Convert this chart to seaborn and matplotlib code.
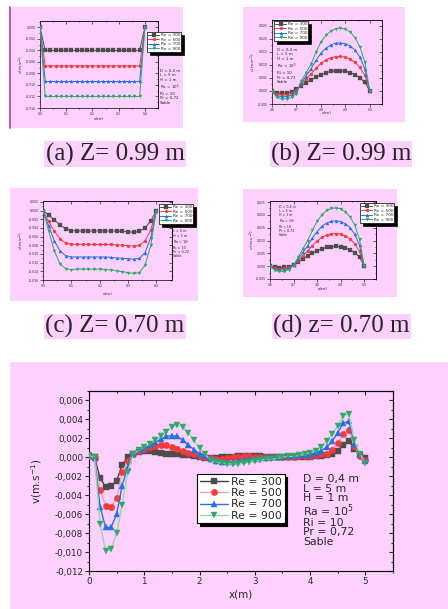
import numpy as np
import pandas as pd
import matplotlib
matplotlib.use("Agg")
import matplotlib.pyplot as plt
import seaborn as sns
from matplotlib.patches import Rectangle
from matplotlib.lines import Line2D
from matplotlib.ticker import MultipleLocator, FuncFormatter, FixedLocator

sns.set_style("ticks")
plt.rcParams['font.family'] = ['DejaVu Sans']
plt.rcParams['axes.unicode_minus'] = False

# ---------------- data ----------------
RE = ["Re = 300", "Re = 500", "Re = 700", "Re = 900"]

XA = [0.00, 0.02, 0.04, 0.06, 0.08, 0.10, 0.12, 0.14, 0.16, 0.18, 0.20,
      0.22, 0.24, 0.26, 0.28, 0.30, 0.32, 0.34, 0.36, 0.38, 0.40]
A300 = [0.0, -0.0040, -0.0040, -0.0040, -0.0040, -0.0040, -0.0040, -0.0040, -0.0040, -0.0040, -0.0040,
        -0.0040, -0.0040, -0.0040, -0.0040, -0.0040, -0.0040, -0.0040, -0.0040, -0.0040, 0.0]
A500 = [0.0, -0.0067, -0.0067, -0.0067, -0.0067, -0.0067, -0.0067, -0.0067, -0.0067, -0.0067, -0.0067,
        -0.0067, -0.0067, -0.0067, -0.0067, -0.0067, -0.0067, -0.0067, -0.0067, -0.0067, 0.0]
A700 = [0.0, -0.0094, -0.0094, -0.0094, -0.0094, -0.0094, -0.0094, -0.0094, -0.0094, -0.0094, -0.0094,
        -0.0094, -0.0094, -0.0094, -0.0094, -0.0094, -0.0094, -0.0094, -0.0094, -0.0094, 0.0]
A900 = [0.0, -0.0120, -0.0120, -0.0120, -0.0120, -0.0120, -0.0120, -0.0120, -0.0120, -0.0120, -0.0120,
        -0.0120, -0.0120, -0.0120, -0.0120, -0.0120, -0.0120, -0.0120, -0.0120, -0.0120, 0.0]

XB = [4.60, 4.62, 4.64, 4.66, 4.68, 4.70, 4.72, 4.74, 4.76, 4.78, 4.80,
      4.82, 4.84, 4.86, 4.88, 4.90, 4.92, 4.94, 4.96, 4.98, 5.00]
B300 = [0.0, -0.0007, -0.0008, -0.0007, -0.0003, 0.0008, 0.0020, 0.0032, 0.0043, 0.0054, 0.0063,
        0.0070, 0.0075, 0.0078, 0.0078, 0.0076, 0.0071, 0.0063, 0.0051, 0.0033, 0.0]
B500 = [0.0, -0.0012, -0.0015, -0.0014, -0.0009, 0.0002, 0.0025, 0.0045, 0.0066, 0.0088, 0.0106,
        0.0119, 0.0128, 0.0132, 0.0133, 0.0130, 0.0123, 0.0110, 0.0091, 0.0060, 0.0]
B700 = [0.0, -0.0018, -0.0022, -0.0022, -0.0016, -0.0003, 0.0030, 0.0058, 0.0086, 0.0118, 0.0145,
        0.0164, 0.0177, 0.0184, 0.0185, 0.0182, 0.0173, 0.0157, 0.0130, 0.0085, 0.0]
B900 = [0.0, -0.0025, -0.0030, -0.0030, -0.0025, -0.0010, 0.0039, 0.0071, 0.0104, 0.0150, 0.0188,
        0.0214, 0.0230, 0.0239, 0.0242, 0.0238, 0.0227, 0.0205, 0.0169, 0.0110, 0.0]

XC = XA
C300 = [0.0, -0.0010, -0.0022, -0.0033, -0.0042, -0.0046, -0.0047, -0.0047, -0.0047, -0.0047, -0.0047,
        -0.0047, -0.0047, -0.0047, -0.0048, -0.0049, -0.0050, -0.0048, -0.0040, -0.0024, 0.0]
C500 = [0.0, -0.0025, -0.0048, -0.0065, -0.0075, -0.0078, -0.0078, -0.0078, -0.0078, -0.0078, -0.0078,
        -0.0078, -0.0078, -0.0079, -0.0080, -0.0081, -0.0082, -0.0080, -0.0070, -0.0045, 0.0]
C700 = [0.0, -0.0035, -0.0070, -0.0093, -0.0104, -0.0107, -0.0107, -0.0107, -0.0107, -0.0107, -0.0107,
        -0.0107, -0.0108, -0.0109, -0.0110, -0.0111, -0.0112, -0.0110, -0.0097, -0.0062, 0.0]
C900 = [0.0, -0.0047, -0.0093, -0.0123, -0.0134, -0.0136, -0.0135, -0.0135, -0.0135, -0.0135, -0.0135,
        -0.0136, -0.0137, -0.0139, -0.0141, -0.0143, -0.0145, -0.0143, -0.0126, -0.0080, 0.0]

XD = XB
D300 = [0.0, -0.0004, -0.0006, -0.0005, -0.0002, 0.0006, 0.0016, 0.0028, 0.0040, 0.0050, 0.0060,
        0.0067, 0.0073, 0.0076, 0.0077, 0.0075, 0.0071, 0.0064, 0.0053, 0.0035, 0.0]
D500 = [0.0, -0.0007, -0.0010, -0.0009, -0.0005, 0.0004, 0.0022, 0.0040, 0.0060, 0.0080, 0.0098,
        0.0112, 0.0121, 0.0126, 0.0127, 0.0125, 0.0118, 0.0106, 0.0088, 0.0058, 0.0]
D700 = [0.0, -0.0011, -0.0015, -0.0014, -0.0009, 0.0004, 0.0028, 0.0054, 0.0080, 0.0110, 0.0135,
        0.0155, 0.0168, 0.0175, 0.0177, 0.0174, 0.0166, 0.0150, 0.0124, 0.0082, 0.0]
D900 = [0.0, -0.0015, -0.0020, -0.0020, -0.0013, 0.0003, 0.0035, 0.0068, 0.0100, 0.0140, 0.0175,
        0.0200, 0.0217, 0.0225, 0.0227, 0.0223, 0.0212, 0.0192, 0.0160, 0.0105, 0.0]

XE = [0.0, 0.1, 0.2, 0.3, 0.4, 0.5, 0.6, 0.7, 0.8, 0.9, 1.0, 1.1, 1.2, 1.3, 1.4, 1.5, 1.6, 1.7,
      1.8, 1.9, 2.0, 2.1, 2.2, 2.3, 2.4, 2.5, 2.6, 2.7, 2.8, 2.9, 3.0, 3.1, 3.2, 3.3, 3.4, 3.5,
      3.6, 3.7, 3.8, 3.9, 4.0, 4.1, 4.2, 4.3, 4.4, 4.5, 4.6, 4.7, 4.8, 4.9, 5.0]
E300 = [0.0001, 0.0000, -0.0022, -0.0031, -0.0030, -0.0025, -0.0008, 0.0000, 0.0004, 0.0006,
        0.0007, 0.0007, 0.0006, 0.0005, 0.0004, 0.0003, 0.0003, 0.0002, 0.0002, 0.0001,
        0.0000, -0.0001, -0.0001, -0.0001, 0.0000, 0.0000, 0.0000, 0.0001, 0.0001, 0.0001,
        0.0001, 0.0001, 0.0000, 0.0000, 0.0000, 0.0000, 0.0000, 0.0000, 0.0000, 0.0000,
        0.0000, 0.0001, 0.0001, 0.0002, 0.0003, 0.0007, 0.0013, 0.0017, 0.0009, 0.0002, -0.0001]
E500 = [0.0001, -0.0001, -0.0035, -0.0051, -0.0052, -0.0043, -0.0016, -0.0004, 0.0003, 0.0007,
        0.0009, 0.0011, 0.0012, 0.0013, 0.0013, 0.0011, 0.0009, 0.0007, 0.0005, 0.0003,
        0.0001, 0.0000, -0.0001, -0.0002, -0.0002, -0.0001, 0.0000, 0.0000, 0.0001, 0.0001,
        0.0000, 0.0000, 0.0000, 0.0000, 0.0000, 0.0000, 0.0000, 0.0000, 0.0001, 0.0001,
        0.0001, 0.0002, 0.0003, 0.0004, 0.0008, 0.0015, 0.0025, 0.0029, 0.0012, 0.0001, -0.0003]
E700 = [0.0002, -0.0001, -0.0052, -0.0074, -0.0074, -0.0060, -0.0030, -0.0010, 0.0004, 0.0008,
        0.0010, 0.0013, 0.0016, 0.0019, 0.0022, 0.0023, 0.0022, 0.0018, 0.0013, 0.0008,
        0.0004, 0.0001, -0.0002, -0.0004, -0.0005, -0.0005, -0.0005, -0.0004, -0.0003, -0.0002,
        -0.0002, -0.0001, -0.0001, 0.0000, 0.0000, 0.0000, 0.0001, 0.0001, 0.0002, 0.0002,
        0.0003, 0.0005, 0.0007, 0.0011, 0.0017, 0.0026, 0.0036, 0.0038, 0.0014, 0.0003, -0.0004]
E900 = [0.0002, 0.0000, -0.0070, -0.0099, -0.0097, -0.0080, -0.0050, -0.0015, 0.0003, 0.0008,
        0.0011, 0.0014, 0.0018, 0.0022, 0.0027, 0.0032, 0.0034, 0.0032, 0.0026, 0.0018,
        0.0010, 0.0003, -0.0003, -0.0005, -0.0006, -0.0007, -0.0007, -0.0007, -0.0006, -0.0005,
        -0.0004, -0.0003, -0.0002, -0.0002, -0.0001, 0.0000, 0.0001, 0.0001, 0.0002, 0.0003,
        0.0005, 0.0007, 0.0011, 0.0017, 0.0025, 0.0033, 0.0044, 0.0046, 0.0018, 0.0004, -0.0006]

PARAMS = ["D = 0,4 m", "L = 5 m", "H = 1 m", "Ra = 10$^5$", "Ri = 10", "Pr = 0,72", "Sable"]
CAPTIONS = ["(a) Z= 0.99 m", "(b) Z= 0.99 m", "(c) Z= 0.70 m", "(d) z= 0.70 m"]

# ---------------- styling ----------------
W, H = 448, 609
PINK = "#fdd0fd"
MARKERS = ["s", "o", "^", "v"]
MK_COL = ["#4d4d4d", "#f23b3b", "#1f6fe6", "#2fa86a"]
LN_COL_E = ["#3c3c3c", "#f5a3a3", "#2a6fe0", "#94d8ad"]

fig = plt.figure(figsize=(W / 100, H / 100), dpi=100)
fig.patch.set_facecolor("white")


def frect(x0, y0, x1, y1):
    return [x0 / W, 1 - y1 / H, (x1 - x0) / W, (y1 - y0) / H]


def bg(x0, y0, x1, y1):
    fig.add_artist(Rectangle((x0 / W, 1 - y1 / H), (x1 - x0) / W, (y1 - y0) / H,
                             transform=fig.transFigure, facecolor=PINK,
                             edgecolor="none", zorder=-5))


def dec(comma, nd):
    def f(v, p):
        s = f"{v:.{nd}f}"
        return s.replace(".", ",") if comma else s
    return FuncFormatter(f)


def make_panel(box, xs, ys_list, xlim, ylim, xt, yt, xnd, ynd, comma, ylabel,
               ylab_x, xlab_y, leg_xy, ann_x, ann_y, ann_ls, lw, ms, tfs, lfs, legfs, annfs,
               line_cols, xminor, yminor, sw, mew):
    ax = fig.add_axes(frect(*box))
    ax.set_facecolor(PINK)
    for i, ys in enumerate(ys_list):
        sns.lineplot(x=xs, y=ys, ax=ax, color=line_cols[i], linewidth=lw,
                     marker=MARKERS[i], markersize=ms, markerfacecolor=MK_COL[i],
                     markeredgecolor=MK_COL[i], markeredgewidth=mew, label=RE[i],
                     legend=False, sort=False, zorder=3 + i)
    ax.set_xlim(*xlim)
    ax.set_ylim(*ylim)
    ax.xaxis.set_major_locator(FixedLocator(xt))
    ax.yaxis.set_major_locator(FixedLocator(yt))
    ax.xaxis.set_minor_locator(MultipleLocator(xminor))
    ax.yaxis.set_minor_locator(MultipleLocator(yminor))
    ax.xaxis.set_major_formatter(dec(comma, xnd))
    ax.yaxis.set_major_formatter(dec(comma, ynd))
    for s in ax.spines.values():
        s.set_visible(True)
        s.set_linewidth(sw)
        s.set_color("black")
    ax.tick_params(which="major", direction="out", length=sw * 4, width=sw,
                   labelsize=tfs, pad=1, top=False, right=False)
    ax.tick_params(which="minor", direction="out", length=sw * 2, width=sw,
                   top=False, right=False)
    # inward ticks on top and right
    sx = ax.secondary_xaxis("top")
    sx.xaxis.set_major_locator(FixedLocator(xt))
    sx.xaxis.set_minor_locator(MultipleLocator(xminor))
    sx.tick_params(which="major", direction="in", length=sw * 4, width=sw, labeltop=False)
    sx.tick_params(which="minor", direction="in", length=sw * 2, width=sw, labeltop=False)
    sx.spines["top"].set_linewidth(sw)
    sy = ax.secondary_yaxis("right")
    sy.yaxis.set_major_locator(FixedLocator(yt))
    sy.yaxis.set_minor_locator(MultipleLocator(yminor))
    sy.tick_params(which="major", direction="in", length=sw * 4, width=sw, labelright=False)
    sy.tick_params(which="minor", direction="in", length=sw * 2, width=sw, labelright=False)
    sy.spines["right"].set_linewidth(sw)

    ax.set_xlabel("x(m)", fontsize=lfs, va="center")
    ax.set_ylabel(ylabel, fontsize=lfs, va="center")
    ax.xaxis.set_label_coords(0.5, xlab_y)
    ax.yaxis.set_label_coords(ylab_x, 0.5)

    h, l = ax.get_legend_handles_labels()
    leg = ax.legend(h, l, loc="upper left", bbox_to_anchor=(leg_xy[0] / W, 1 - leg_xy[1] / H),
                    bbox_transform=fig.transFigure, borderaxespad=0, fontsize=legfs,
                    frameon=True, fancybox=False, shadow={"color": "black", "alpha": 1},
                    handlelength=2.6, handletextpad=0.3, borderpad=0.25,
                    labelspacing=0.12, edgecolor="black", facecolor="white", framealpha=1)
    leg.get_frame().set_linewidth(sw)
    leg.set_zorder(20)
    yc = (ann_y[0] + ann_y[1]) / 2
    fig.text(ann_x / W, 1 - yc / H, "\n".join(PARAMS), fontsize=annfs, va="center",
             ha="left", linespacing=ann_ls)
    return ax


# ---- background boxes ----
bg(10, 7, 183, 128)
bg(243, 7, 405, 122)
bg(10, 188, 198, 301)
bg(243, 189, 397, 297)
bg(10, 362, 448, 609)
fig.add_artist(Line2D([10 / W, 10 / W], [1 - 7 / H, 1 - 128 / H], color="#b04cc0",
                      lw=1.3, transform=fig.transFigure))

small = dict(lw=0.7, ms=2.2, tfs=2.2, lfs=3.0, legfs=3.1,
             line_cols=MK_COL, sw=0.5, mew=0.2)

# (a)
make_panel((40, 21, 158, 108), XA, [A300, A500, A700, A900], (0, 0.45), (-0.014, 0.0011),
           [0.0, 0.1, 0.2, 0.3, 0.4], [-0.014, -0.012, -0.010, -0.008, -0.006, -0.004, -0.002, 0.000],
           1, 3, False, "v(m.s$^{-1}$)", -0.16, -0.126, (147, 32), 160, (70.5, 103), 1.12,
           xminor=0.05, yminor=0.001, annfs=2.9, **small)
# (b)
make_panel((272, 20, 382, 104), XB, [B300, B500, B700, B900], (4.6, 5.05), (-0.005, 0.0273),
           [4.6, 4.7, 4.8, 4.9, 5.0], [-0.005, 0.0, 0.005, 0.010, 0.015, 0.020, 0.025],
           1, 3, False, "u(m.s$^{-1}$)", -0.165, -0.107, (274, 21), 277, (50, 82), 1.12,
           xminor=0.05, yminor=0.0025, annfs=2.9, **small)
# (c)
make_panel((43, 201, 172, 280), XC, [C300, C500, C700, C900], (0, 0.455), (-0.016, 0.0022),
           [0.0, 0.1, 0.2, 0.3, 0.4],
           [-0.016, -0.014, -0.012, -0.010, -0.008, -0.006, -0.004, -0.002, 0.000, 0.002],
           1, 3, False, "v(m.s$^{-1}$)", -0.165, -0.177, (159, 204), 173, (229.3, 254.3), 1.08,
           xminor=0.05, yminor=0.001, annfs=2.4, **small)
# (d)
make_panel((270, 201, 376, 279), XD, [D300, D500, D700, D900], (4.6, 5.05), (-0.005, 0.0254),
           [4.6, 4.7, 4.8, 4.9, 5.0], [-0.005, 0.0, 0.005, 0.010, 0.015, 0.020, 0.025],
           1, 3, True, "u (m.s$^{-1}$)", -0.17, -0.128, (360, 203), 279, (209.3, 233), 1.05,
           xminor=0.05, yminor=0.0025, annfs=2.35, **small)
# (e)
make_panel((89, 391, 393, 571), XE, [E300, E500, E700, E900], (0, 5.5), (-0.012, 0.007),
           [0, 1, 2, 3, 4, 5],
           [-0.012, -0.010, -0.008, -0.006, -0.004, -0.002, 0.000, 0.002, 0.004, 0.006],
           0, 3, True, "v(m.s$^{-1}$)", -0.171, -0.133, (197, 474), 303, (476, 545), 0.92,
           lw=1.0, ms=4.6, tfs=6.3, lfs=7.5,
           legfs=7.8, annfs=7.8, line_cols=LN_COL_E, xminor=0.5, yminor=0.001, sw=0.8, mew=0.3)

# ---- captions ----
for (cx, cy), s in zip([(115, 154), (341, 154), (115, 326.5), (341, 326.5)], CAPTIONS):
    fig.text(cx / W, 1 - cy / H, s, fontsize=18, family="Liberation Serif",
             ha="center", va="center",
             bbox=dict(facecolor=PINK, edgecolor="none", boxstyle="square,pad=0.05"))

fig.savefig("out.png", dpi=100)
